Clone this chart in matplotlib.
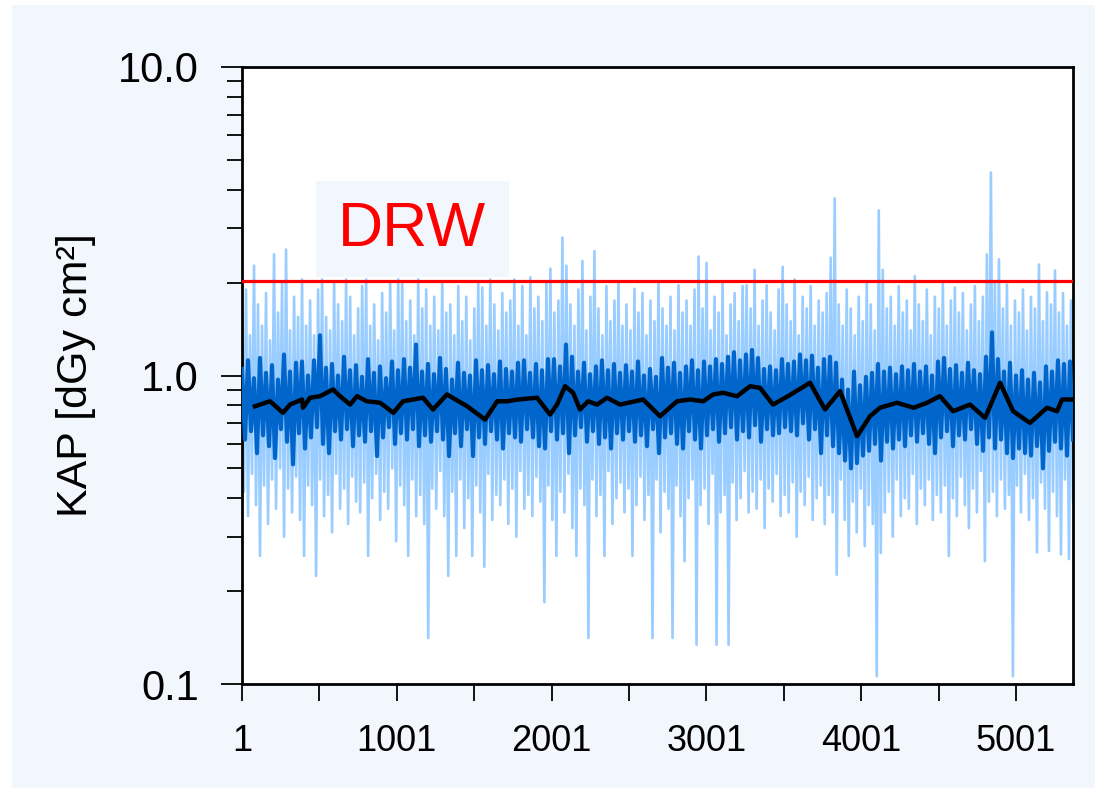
import numpy as np
import matplotlib
matplotlib.use("Agg")
import matplotlib.pyplot as plt
from matplotlib.patches import Rectangle

plt.rcParams['font.family'] = ['Liberation Sans', 'DejaVu Sans']

# individual KAP values, read as per-column highs and lows (dGy cm2)
light_hi = [
    1.5, 1.9, 1.35, 2.27, 1.7, 1.45, 1.85, 1.3, 2.47, 1.6, 2.0, 2.56, 1.4, 1.8, 1.55, 2.05,
    1.45, 1.75, 1.35, 1.9, 2.05, 1.55, 1.4, 2.0, 1.7, 1.5, 2.05, 1.8, 1.35, 1.65, 1.95, 2.05,
    1.45, 1.7, 1.3, 1.85, 1.6, 2.0, 1.4, 2.05, 2.0, 1.5, 1.75, 1.35, 2.05, 1.65, 1.9, 1.45,
    1.8, 1.4, 2.0, 1.6, 1.7, 1.35, 1.95, 1.5, 1.8, 1.3, 1.65, 2.0, 1.93, 1.45, 2.05, 1.7,
    1.4, 1.85, 1.6, 1.75, 2.05, 1.45, 1.95, 1.35, 2.08, 1.65, 1.8, 1.5, 2.0, 2.22, 1.6, 1.75,
    2.8, 2.27, 1.7, 1.45, 1.9, 2.35, 1.4, 1.8, 2.53, 1.65, 1.35, 1.95, 1.5, 1.75, 2.0, 1.45,
    1.7, 1.4, 1.91, 1.6, 1.85, 1.35, 1.75, 1.5, 2.0, 1.65, 1.45, 1.8, 1.4, 1.96, 1.6, 1.75,
    1.45, 1.9, 2.43, 1.65, 2.32, 1.4, 1.8, 1.6, 2.0, 1.35, 1.7, 1.85, 1.5, 1.95, 1.96, 1.65,
    2.2, 1.45, 1.75, 1.96, 1.6, 1.4, 1.9, 2.25, 1.7, 1.5, 2.05, 1.35, 1.8, 1.65, 1.95, 1.45,
    1.75, 1.6, 1.85, 2.41, 3.75, 1.7, 1.45, 1.9, 1.65, 1.35, 1.8, 1.5, 2.0, 1.7, 1.4, 3.43,
    2.2, 1.65, 1.8, 1.45, 1.95, 1.6, 1.75, 1.4, 2.1, 1.7, 1.5, 1.9, 1.35, 1.8, 1.65, 2.0,
    1.45, 1.75, 1.93, 1.6, 1.85, 1.4, 1.7, 1.95, 1.5, 1.8, 2.47, 4.55, 2.0, 2.38, 1.65, 1.97,
    1.45, 1.75, 1.6, 1.9, 1.4, 1.8, 1.65, 2.29, 1.5, 1.86, 1.7, 2.19, 1.6, 1.85, 1.45, 1.75,
]
light_lo = [
    0.42, 0.35, 0.48, 0.38, 0.26, 0.44, 0.33, 0.46, 0.37, 0.5, 0.3, 0.43, 0.36, 0.47, 0.34, 0.26,
    0.44, 0.38, 0.224, 0.46, 0.35, 0.41, 0.31, 0.48, 0.37, 0.43, 0.33, 0.47, 0.39, 0.36, 0.45, 0.26,
    0.4, 0.48, 0.34, 0.42, 0.37, 0.5, 0.29, 0.44, 0.38, 0.26, 0.46, 0.35, 0.41, 0.33, 0.141, 0.43,
    0.37, 0.49, 0.35, 0.224, 0.42, 0.26, 0.46, 0.32, 0.4, 0.26, 0.44, 0.36, 0.24, 0.48, 0.34, 0.41,
    0.38, 0.46, 0.33, 0.43, 0.3, 0.49, 0.37, 0.41, 0.35, 0.47, 0.39, 0.184, 0.44, 0.34, 0.26, 0.42,
    0.36, 0.48, 0.32, 0.26, 0.43, 0.38, 0.141, 0.46, 0.35, 0.41, 0.26, 0.49, 0.33, 0.4, 0.45, 0.36,
    0.43, 0.26, 0.38, 0.47, 0.34, 0.41, 0.141, 0.46, 0.31, 0.42, 0.37, 0.141, 0.44, 0.35, 0.25, 0.4,
    0.46, 0.134, 0.38, 0.43, 0.33, 0.48, 0.134, 0.36, 0.41, 0.134, 0.45, 0.34, 0.4, 0.49, 0.36, 0.42,
    0.37, 0.46, 0.32, 0.43, 0.39, 0.48, 0.35, 0.41, 0.36, 0.45, 0.3, 0.42, 0.38, 0.47, 0.34, 0.4,
    0.44, 0.33, 0.41, 0.36, 0.226, 0.46, 0.34, 0.26, 0.39, 0.31, 0.43, 0.28, 0.38, 0.33, 0.106, 0.266,
    0.36, 0.42, 0.3, 0.46, 0.35, 0.4, 0.37, 0.48, 0.33, 0.43, 0.38, 0.46, 0.34, 0.41, 0.36, 0.44,
    0.26, 0.4, 0.35, 0.47, 0.38, 0.32, 0.43, 0.36, 0.49, 0.25, 0.39, 0.42, 0.35, 0.46, 0.37, 0.41,
    0.106, 0.44, 0.36, 0.48, 0.34, 0.4, 0.267, 0.45, 0.37, 0.27, 0.42, 0.35, 0.263, 0.46, 0.254, 0.39,
]

# short moving average (dark blue), highs and lows
dark_hi = [
    1.05, 1.12, 0.98, 1.14, 1.02, 1.08, 0.97, 1.17, 1.03, 1.1, 1.11, 1.0, 1.12, 1.35, 1.06, 1.09,
    1.0, 1.15, 1.04, 1.08, 0.99, 1.13, 1.02, 1.07, 0.98, 1.11, 1.04, 1.13, 1.06, 1.26, 1.03, 1.09,
    1.01, 1.14, 1.05, 0.97, 1.1, 1.02, 1.0, 1.12, 1.04, 1.08, 1.01, 1.11, 1.05, 1.03, 1.1, 1.12,
    1.02, 1.09, 1.04, 1.13, 1.13, 1.07, 1.26, 1.15, 1.03, 1.1, 1.01, 1.07, 1.12, 1.04, 1.09, 1.02,
    1.08, 1.03, 1.11, 1.0, 1.05, 0.99, 1.14, 1.06, 1.1, 1.02, 1.07, 1.12, 1.04, 1.11, 1.07, 1.13,
    1.09, 1.15, 1.19, 1.12, 1.17, 1.21, 1.14, 1.05, 1.07, 1.04, 1.13, 1.09, 1.11, 1.17, 1.12, 1.16,
    1.06, 1.13, 1.15, 1.1, 0.97, 0.9, 1.03, 0.93, 0.99, 1.02, 1.09, 1.03, 1.06, 1.01, 1.07, 1.04,
    1.09, 1.03, 1.07, 1.0, 1.11, 1.14, 1.05, 1.08, 1.02, 1.1, 1.04, 1.01, 1.15, 1.38, 1.13, 1.03,
    1.1, 1.0, 1.04, 0.97, 1.02, 0.95, 1.07, 1.03, 1.12, 1.09, 1.11,
]
dark_lo = [
    0.62, 0.66, 0.56, 0.64, 0.59, 0.54, 0.67, 0.61, 0.515, 0.65, 0.58, 0.63, 0.68, 0.6, 0.56, 0.66,
    0.62, 0.67, 0.59, 0.64, 0.61, 0.66, 0.548, 0.63, 0.68, 0.6, 0.65, 0.62, 0.67, 0.59, 0.64, 0.61,
    0.66, 0.62, 0.548, 0.65, 0.59, 0.67, 0.548, 0.63, 0.6, 0.66, 0.62, 0.58, 0.65, 0.63, 0.61, 0.67,
    0.63, 0.59, 0.58, 0.66, 0.62, 0.65, 0.56, 0.64, 0.68, 0.61, 0.66, 0.6, 0.63, 0.58, 0.65, 0.62,
    0.66, 0.61, 0.64, 0.59, 0.67, 0.56, 0.63, 0.65, 0.6, 0.58, 0.66, 0.62, 0.58, 0.64, 0.67, 0.61,
    0.65, 0.68, 0.62, 0.66, 0.63, 0.69, 0.61, 0.67, 0.64, 0.65, 0.68, 0.66, 0.64, 0.7, 0.62, 0.67,
    0.56, 0.64, 0.59, 0.56, 0.53, 0.5, 0.52, 0.55, 0.57, 0.6, 0.53, 0.61, 0.58, 0.62, 0.59, 0.64,
    0.61, 0.65, 0.6, 0.56, 0.63, 0.66, 0.59, 0.64, 0.62, 0.67, 0.6, 0.57, 0.63, 0.58, 0.62, 0.56,
    0.54, 0.58, 0.56, 0.55, 0.59, 0.5, 0.57, 0.61, 0.58, 0.55, 0.62,
]

# long moving average (black)
black_x = [85, 182, 266, 311, 389, 395, 440, 505, 589, 634, 699, 744, 808, 893, 979,
           1041, 1170, 1235, 1325, 1455, 1571, 1649, 1713, 1784, 1907, 1991, 2036, 2088,
           2140, 2184, 2237, 2295, 2359, 2443, 2592, 2701, 2811, 2895, 2980, 3044, 3108,
           3199, 3283, 3347, 3431, 3528, 3670, 3767, 3864, 3974, 4058, 4122, 4232, 4339,
           4426, 4510, 4594, 4704, 4801, 4898, 4982, 5091, 5201, 5266, 5298, 5369]
black_y = [0.795, 0.825, 0.757, 0.805, 0.836, 0.786, 0.847, 0.857, 0.901, 0.857, 0.805,
           0.857, 0.825, 0.816, 0.757, 0.825, 0.847, 0.776, 0.868, 0.795, 0.720, 0.825,
           0.825, 0.836, 0.847, 0.747, 0.805, 0.923, 0.879, 0.776, 0.825, 0.805, 0.847,
           0.805, 0.836, 0.738, 0.825, 0.836, 0.825, 0.868, 0.879, 0.857, 0.923, 0.912,
           0.805, 0.857, 0.947, 0.776, 0.889, 0.636, 0.738, 0.786, 0.816, 0.786, 0.816,
           0.857, 0.766, 0.805, 0.729, 0.947, 0.766, 0.702, 0.786, 0.766, 0.836, 0.836]

drw_level = 2.03
x_first, x_last = 1, 5369
x_ticks = [1, 1001, 2001, 3001, 4001, 5001]
x_minor = [501, 1501, 2501, 3501, 4501]
y_ticks = [0.1, 1.0, 10.0]
y_labels = ['0.1', '1.0', '10.0']

bg = '#f2f7fd'

fig = plt.figure(figsize=(10.95, 7.88), dpi=100, facecolor='white')
fig.patches.append(Rectangle((12 / 1095, 0), 1, 1 - 5 / 788, transform=fig.transFigure,
                             facecolor=bg, edgecolor='none', zorder=-10))
ax = fig.add_axes([242 / 1095, 1 - 684 / 788, 831 / 1095, 617 / 788])
ax.set_facecolor('white')

light_vals = np.ravel(np.column_stack([light_hi, light_lo]))
light_x = np.linspace(x_first, x_last, len(light_vals))
dark_vals = np.ravel(np.column_stack([dark_hi, dark_lo]))
dark_x = np.linspace(x_first, x_last, len(dark_vals))

ax.plot(light_x, light_vals, color='#99ccff', lw=1.9, zorder=2)
ax.plot(dark_x, dark_vals, color='#0066cc', lw=3.0, zorder=3)
ax.plot(black_x, black_y, color='black', lw=3.2, zorder=4)
ax.axhline(drw_level, color='#ff0000', lw=2.3, zorder=5)

# DRW label box
ax.add_patch(Rectangle((0.089, 0.660), 0.232, 0.155, transform=ax.transAxes,
                       facecolor=bg, edgecolor='none', zorder=1))
ax.text(0.205, 0.737, 'DRW', transform=ax.transAxes, color='#ff0000', fontsize=45,
        ha='center', va='center', zorder=6)

ax.set_yscale('log')
ax.set_ylim(0.1, 10)
ax.set_xlim(x_first, x_last)
ax.set_yticks(y_ticks)
ax.set_yticklabels(y_labels)
ax.set_yticks([m * d for d in (0.1, 1.0) for m in range(2, 10)], minor=True)
ax.yaxis.set_minor_formatter(plt.NullFormatter())
ax.set_xticks(x_ticks)
ax.set_xticks(x_minor, minor=True)

ax.tick_params(axis='y', which='major', length=15, width=1.3, labelsize=30, pad=16)
ax.tick_params(axis='y', which='minor', length=11, width=1.3)
ax.tick_params(axis='x', which='both', length=12, width=1.3, pad=17, labelsize=26)

for s in ax.spines.values():
    s.set_linewidth(2.0)
    s.set_color('black')

ax.set_ylabel('KAP [dGy cm²]', fontsize=31)
ax.yaxis.set_label_coords(-0.176, 0.5)

fig.savefig('out.png', dpi=100, facecolor=fig.get_facecolor())
